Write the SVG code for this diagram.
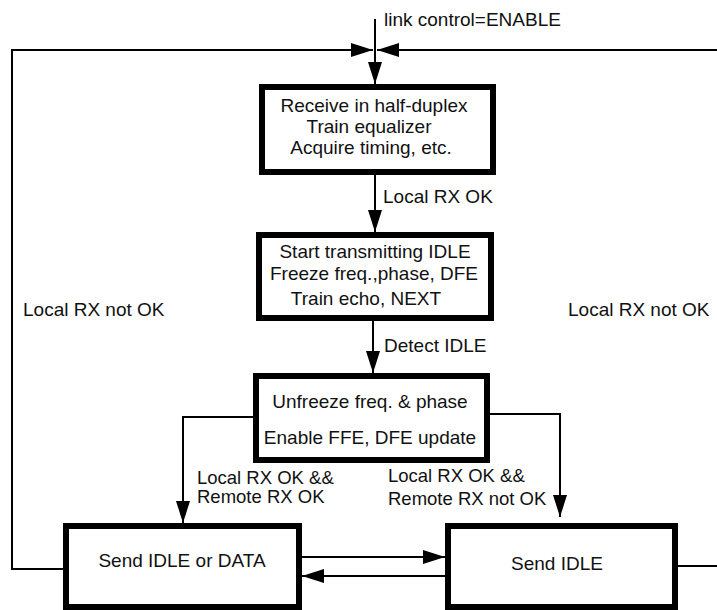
<svg xmlns="http://www.w3.org/2000/svg" width="717" height="610" viewBox="0 0 717 610">
  <style>
    .box { fill: #fff; stroke: #000; stroke-width: 6; }
    .wire { fill: none; stroke: #000; stroke-width: 2; }
    text { font-family: "Liberation Sans", Arial, sans-serif; font-size: 19px; fill: #111; }
    .c { text-anchor: middle; }
    .tight { font-size: 18.5px; }
  </style>
  <defs>
    <marker id="arrow" markerUnits="userSpaceOnUse" markerWidth="22" markerHeight="14" refX="22" refY="7" orient="auto" overflow="visible">
      <path d="M0,0 L22,7 L0,14 z" fill="#000"/>
    </marker>
  </defs>
  <rect width="717" height="610" fill="#fff"/>

  <g id="connectors">
    <!-- entry from link control -->
    <path class="wire" d="M375,19 V84" marker-end="url(#arrow)"/>
    <!-- return loops joining the top bus -->
    <path class="wire" d="M63,569 H12 V50 H373" marker-end="url(#arrow)"/>
    <path class="wire" d="M678,566 H720 V50 H377" marker-end="url(#arrow)"/>
    <!-- main chain -->
    <path class="wire" d="M375,175 V232" marker-end="url(#arrow)"/>
    <path class="wire" d="M373,321 V373" marker-end="url(#arrow)"/>
    <!-- branches -->
    <path class="wire" d="M253,417 H183 V523" marker-end="url(#arrow)"/>
    <path class="wire" d="M490,414 H560 V517" marker-end="url(#arrow)"/>
    <!-- between the two sending states -->
    <path class="wire" d="M302,557 H445" marker-end="url(#arrow)"/>
    <path class="wire" d="M445,576 H302" marker-end="url(#arrow)"/>
  </g>

  <g id="labels">
    <text x="384" y="26">link control=ENABLE</text>
    <text x="383" y="203">Local RX OK</text>
    <text x="384" y="352">Detect IDLE</text>
    <text x="23" y="316">Local RX not OK</text>
    <text x="568" y="316">Local RX not OK</text>
    <text class="tight" x="197" y="484">Local RX OK &amp;&amp;</text>
    <text class="tight" x="197" y="503">Remote RX OK</text>
    <text class="tight" x="388" y="482">Local RX OK &amp;&amp;</text>
    <text class="tight" x="388" y="505">Remote RX not OK</text>
  </g>

  <g id="receive">
    <rect class="box" x="262" y="87" width="231" height="85"/>
    <text class="c" x="374" y="112">Receive in half-duplex</text>
    <text class="c" x="369" y="133">Train equalizer</text>
    <text class="c" x="371" y="154">Acquire timing, etc.</text>
  </g>

  <g id="start-idle">
    <rect class="box" x="259" y="235" width="232" height="83"/>
    <text class="c" x="375" y="258">Start transmitting IDLE</text>
    <text class="c" x="374" y="280">Freeze freq.,phase, DFE</text>
    <text class="c" x="366" y="305">Train echo, NEXT</text>
  </g>

  <g id="unfreeze">
    <rect class="box" x="256" y="376" width="231" height="84"/>
    <text class="c" x="370" y="408">Unfreeze freq. &amp; phase</text>
    <text class="c" x="370" y="444">Enable FFE, DFE update</text>
  </g>

  <g id="send-data">
    <rect class="box" x="66" y="526" width="233" height="81"/>
    <text class="c" x="182" y="567">Send IDLE or DATA</text>
  </g>

  <g id="send-idle">
    <rect class="box" x="448" y="526" width="227" height="81"/>
    <text class="c" x="557" y="570">Send IDLE</text>
  </g>
</svg>
